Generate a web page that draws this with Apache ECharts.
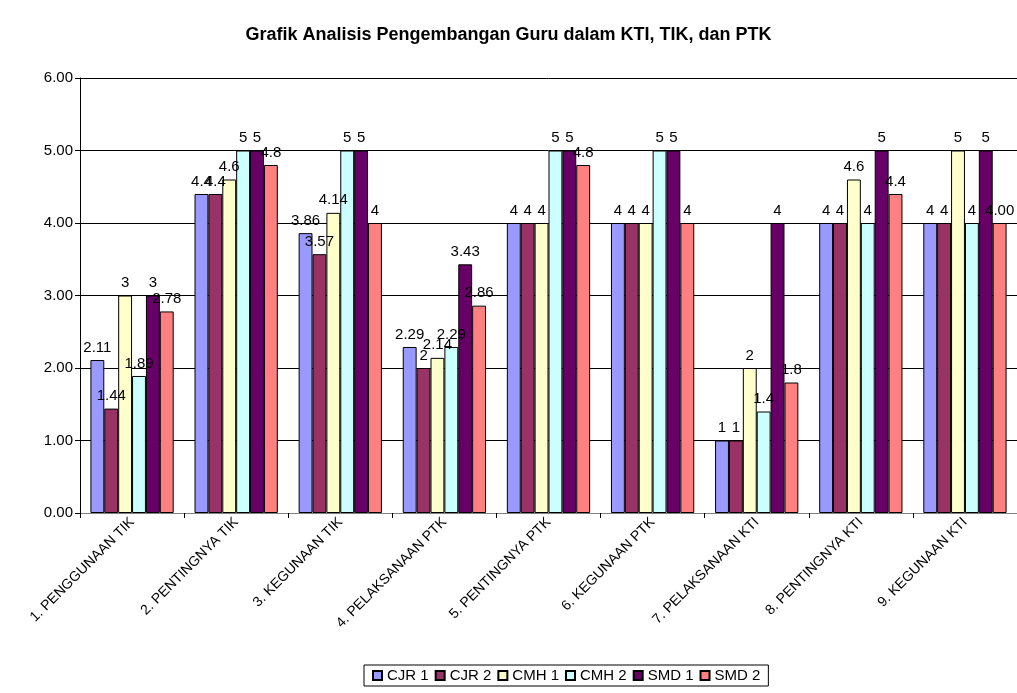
<!DOCTYPE html>
<html>
<head>
<meta charset="utf-8">
<script src="https://cdn.jsdelivr.net/npm/echarts@6/dist/echarts.min.js"></script>
<style>
  html, body { margin: 0; padding: 0; background: #fff; }
  #chart { width: 1017px; height: 693px; }
</style>
</head>
<body>
<div id="chart"></div>
<script>
  const categories = [
    '1. PENGGUNAAN TIK', '2. PENTINGNYA TIK', '3. KEGUNAAN TIK',
    '4. PELAKSANAAN PTK', '5. PENTINGNYA PTK', '6. KEGUNAAN PTK',
    '7. PELAKSANAAN KTI', '8. PENTINGNYA KTI', '9. KEGUNAAN KTI'
  ];
  const seriesNames = ['CJR 1', 'CJR 2', 'CMH 1', 'CMH 2', 'SMD 1', 'SMD 2'];
  const cjr1 = [2.11, 4.4, 3.86, 2.29, 4, 4, 1, 4, 4];
  const cjr2 = [1.44, 4.4, 3.57, 2, 4, 4, 1, 4, 4];
  const cmh1 = [3, 4.6, 4.14, 2.14, 4, 4, 2, 4.6, 5];
  const cmh2 = [1.89, 5, 5, 2.29, 5, 5, 1.4, 4, 4];
  const smd1 = [3, 5, 5, 3.43, 5, 5, 4, 5, 5];
  const smd2 = [2.78, 4.8, 4, 2.86, 4.8, 4, 1.8, 4.4, 4];
  const yTicks = [0, 1, 2, 3, 4, 5, 6];
  const colors = ['#9999ff', '#993366', '#ffffcc', '#ccffff', '#660066', '#ff8080'];

  const font = 'Liberation Sans, Arial, sans-serif';
  const values = [cjr1, cjr2, cmh1, cmh2, smd1, smd2];

  const chart = echarts.init(document.getElementById('chart'));
  chart.setOption({
    animation: false,
    color: colors,
    textStyle: { fontFamily: font },
    title: {
      text: 'Grafik Analisis Pengembangan Guru dalam KTI, TIK, dan PTK',
      left: 'center',
      top: 21,
      textStyle: { fontSize: 18, fontWeight: 'bold', color: '#000', fontFamily: font }
    },
    legend: {
      bottom: 7,
      left: 364,
      itemWidth: 9,
      itemHeight: 9,
      itemGap: 6,
      padding: [3, 8],
      borderColor: '#000',
      borderWidth: 1,
      icon: 'rect',
      textStyle: { fontSize: 15, color: '#000', width: 48, fontFamily: font },
      data: seriesNames
    },
    grid: { left: 80, right: -10, top: 78, bottom: 180 },
    xAxis: {
      type: 'category',
      data: categories,
      axisLine: { lineStyle: { color: '#808080', width: 1 } },
      axisTick: { show: true, length: 5, lineStyle: { color: '#000' } },
      axisLabel: { rotate: 45, fontSize: 14, color: '#000', margin: 7, interval: 0 }
    },
    yAxis: {
      type: 'value',
      min: yTicks[0],
      max: yTicks[yTicks.length - 1],
      interval: 1,
      axisLine: { show: true, lineStyle: { color: '#000' } },
      axisTick: { show: true, length: 5, lineStyle: { color: '#000' } },
      axisLabel: { fontSize: 15, color: '#000', margin: 7, formatter: v => v.toFixed(2) },
      splitLine: { lineStyle: { color: '#000', width: 1 } }
    },
    series: seriesNames.map((name, i) => ({
      name,
      type: 'bar',
      barGap: '0%',
      barCategoryGap: '20%',
      itemStyle: { borderColor: '#000', borderWidth: 1 },
      label: { show: true, position: 'top', distance: 5, fontSize: 15, color: '#000' },
      data: values[i].map((v, j) =>
        (i === 5 && j === 8) ? { value: v, label: { formatter: '4.00' } } : v)
    }))
  });
</script>
</body>
</html>
